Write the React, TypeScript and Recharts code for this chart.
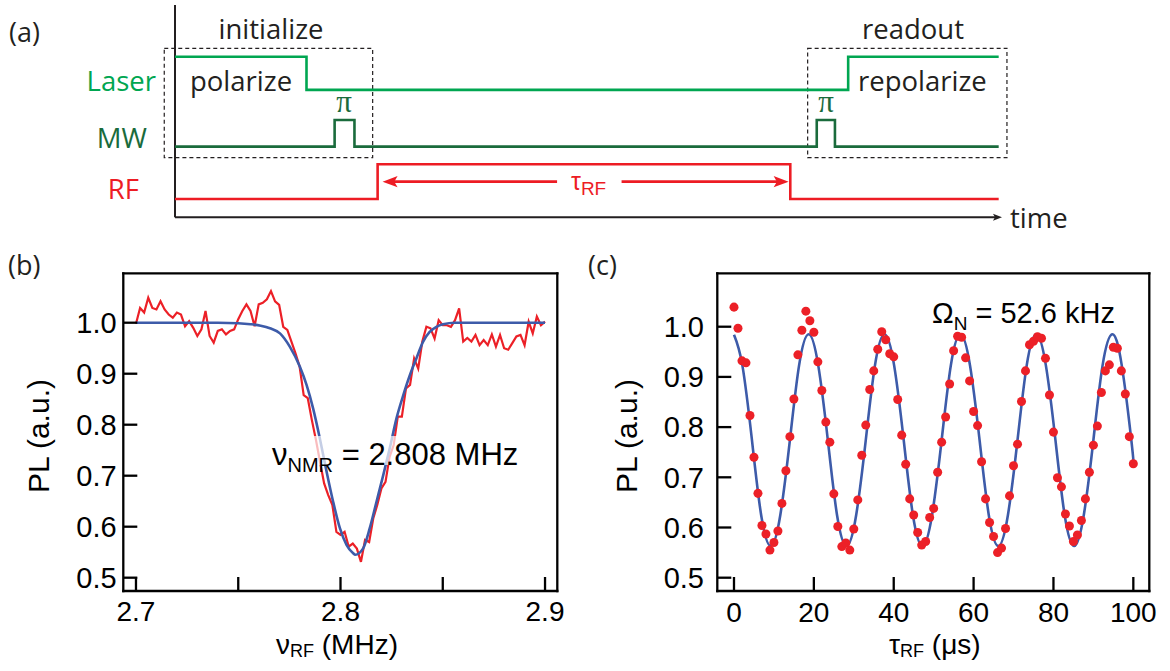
import React from "react";
import {
  LineChart, ComposedChart, Line, Scatter, XAxis, YAxis,
  ReferenceLine, ReferenceArea, ReferenceDot,
} from "recharts";

// ---- (a) pulse sequence: edge times (arb. units) and logic states ----
const LASER_T = [0, 15.9, 81.4, 99.6];
const LASER_S = [1, 0, 1, 1];
const MW_T = [0, 19.3, 21.7, 77.6, 79.8, 99.6];
const MW_S = [0, 1, 0, 1, 0, 0];
const RF_T = [0, 24.5, 74.4, 99.6];
const RF_S = [0, 1, 0, 0];
const TAU_ARROW = [25.1, 74.2];
const BOX_INIT = [-1.3, 23.9];
const BOX_READ = [76.5, 100.6];

// ---- (b) NMR spectrum ----
const NU_B = [
  2.700, 2.702, 2.704, 2.706, 2.708, 2.710, 2.712, 2.714, 2.716, 2.718,
  2.720, 2.722, 2.724, 2.726, 2.728, 2.730, 2.732, 2.734, 2.736, 2.738,
  2.740, 2.742, 2.744, 2.746, 2.748, 2.750, 2.752, 2.754, 2.756, 2.758,
  2.760, 2.762, 2.764, 2.766, 2.768, 2.770, 2.772, 2.774, 2.776, 2.778,
  2.780, 2.782, 2.784, 2.786, 2.788, 2.790, 2.792, 2.794, 2.796, 2.798,
  2.800, 2.802, 2.804, 2.806, 2.808, 2.810, 2.812, 2.814, 2.816, 2.818,
  2.820, 2.822, 2.824, 2.826, 2.828, 2.830, 2.832, 2.834, 2.836, 2.838,
  2.840, 2.842, 2.844, 2.846, 2.848, 2.850, 2.852, 2.854, 2.856, 2.858,
  2.860, 2.862, 2.864, 2.866, 2.868, 2.870, 2.872, 2.874, 2.876, 2.878,
  2.880, 2.882, 2.884, 2.886, 2.888, 2.890, 2.892, 2.894, 2.896, 2.898,
  2.900,
];
const PL_B = [
  0.998, 1.029, 1.020, 1.049, 1.029, 1.026, 1.042, 1.026, 1.016, 1.010,
  1.020, 1.016, 0.993, 1.003, 0.990, 0.974, 0.987, 1.023, 0.974, 0.961,
  0.984, 0.987, 0.977, 0.984, 0.987, 1.007, 1.023, 1.036, 1.023, 0.993,
  1.036, 1.039, 1.046, 1.062, 1.042, 1.035, 0.992, 0.986, 0.963, 0.940,
  0.914, 0.858, 0.852, 0.809, 0.770, 0.727, 0.685, 0.662, 0.643, 0.590,
  0.584, 0.590, 0.561, 0.567, 0.557, 0.531, 0.574, 0.570, 0.616, 0.643,
  0.675, 0.688, 0.737, 0.760, 0.816, 0.816, 0.871, 0.878, 0.930, 0.910,
  0.963, 0.992, 0.989, 0.969, 1.005, 0.995, 0.995, 0.992, 1.005, 1.028,
  0.963, 0.970, 0.963, 0.976, 0.956, 0.966, 0.956, 0.977, 0.953, 0.976,
  0.950, 0.947, 0.960, 0.973, 0.976, 0.956, 1.002, 0.979, 1.012, 0.995,
  1.002,
];
const FIT_NU_B = [
  2.700, 2.740, 2.750, 2.756, 2.761, 2.7655, 2.7704, 2.7752, 2.7801, 2.7834,
  2.7866, 2.7899, 2.7932, 2.7964, 2.7997, 2.8030, 2.8062, 2.8072, 2.8110, 2.8143,
  2.8176, 2.8209, 2.8241, 2.8274, 2.8307, 2.8339, 2.8371, 2.8404, 2.8436, 2.8469,
  2.8501, 2.856, 2.870, 2.900,
];
const FIT_PL_B = [
  1.000, 1.000, 0.999, 0.997, 0.994, 0.989, 0.979, 0.953, 0.914, 0.878,
  0.832, 0.773, 0.708, 0.649, 0.597, 0.564, 0.548, 0.545, 0.557, 0.597,
  0.649, 0.701, 0.754, 0.813, 0.858, 0.897, 0.930, 0.963, 0.982, 0.992,
  0.997, 1.000, 1.000, 1.000,
];
const TICKS_NU = [2.7, 2.75, 2.8, 2.85, 2.9];
const TICKS_PL = [0.5, 0.6, 0.7, 0.8, 0.9, 1.0];

// ---- (c) Rabi oscillation ----
const TAU_C = [
  0, 1, 2, 3, 4, 5, 6, 7, 8, 9, 10, 11, 12, 13, 14, 15, 16, 17, 18, 19,
  20, 21, 22, 23, 24, 25, 26, 27, 28, 29, 30, 31, 32, 33, 34, 35, 36, 37, 38, 39,
  40, 41, 42, 43, 44, 45, 46, 47, 48, 49, 50, 51, 52, 53, 54, 55, 56, 57, 58, 59,
  60, 61, 62, 63, 64, 65, 66, 67, 68, 69, 70, 71, 72, 73, 74, 75, 76, 77, 78, 79,
  80, 81, 82, 83, 84, 85, 86, 87, 88, 89, 90, 91, 92, 93, 94, 95, 96, 97, 98, 99,
  100,
];
const PL_C = [
  1.039, 0.997, 0.932, 0.928, 0.823, 0.740, 0.668, 0.604, 0.587, 0.555,
  0.570, 0.593, 0.648, 0.713, 0.781, 0.856, 0.944, 0.993, 1.031, 1.012,
  0.989, 0.930, 0.873, 0.810, 0.770, 0.667, 0.602, 0.562, 0.569, 0.555,
  0.597, 0.655, 0.744, 0.804, 0.875, 0.912, 0.955, 0.990, 0.974, 0.946,
  0.940, 0.855, 0.784, 0.726, 0.657, 0.625, 0.590, 0.565, 0.572, 0.620,
  0.638, 0.710, 0.770, 0.820, 0.886, 0.952, 0.981, 0.979, 0.938, 0.892,
  0.831, 0.803, 0.731, 0.657, 0.610, 0.582, 0.550, 0.559, 0.598, 0.663,
  0.723, 0.766, 0.851, 0.912, 0.964, 0.971, 0.980, 0.977, 0.937, 0.864,
  0.790, 0.699, 0.681, 0.627, 0.603, 0.572, 0.585, 0.614, 0.657, 0.710,
  0.764, 0.802, 0.869, 0.912, 0.924, 0.959, 0.957, 0.912, 0.866, 0.781,
  0.727,
];
const FIT_TAU_C = [
  0, 2.1, 4.5, 6.8, 9.2, 11.6, 14.0, 16.3, 18.7, 21.1, 23.5, 25.8, 28.2,
  30.6, 33.0, 35.3, 37.7, 40.1, 42.5, 44.8, 47.2, 49.6, 52.0, 54.3, 56.7,
  59.1, 61.5, 63.8, 66.2, 68.6, 71.0, 73.3, 75.7, 78.1, 80.5, 82.8, 85.2,
  87.6, 90.0, 92.3, 94.7, 97.1, 99.5, 100,
];
const FIT_PL_C = [
  0.984, 0.923, 0.774, 0.625, 0.563, 0.625, 0.774, 0.923, 0.985, 0.923, 0.774, 0.625, 0.563,
  0.625, 0.774, 0.923, 0.985, 0.923, 0.774, 0.625, 0.563, 0.625, 0.774, 0.923, 0.985,
  0.923, 0.774, 0.625, 0.563, 0.625, 0.774, 0.923, 0.985, 0.923, 0.774, 0.625, 0.563,
  0.625, 0.774, 0.923, 0.985, 0.923, 0.774, 0.733,
];
const TICKS_TAU = [0, 20, 40, 60, 80, 100];

// colours / fonts
const LASER = "#00a651";
const MW = "#1a6b3c";
const RF = "#ed1c24";
const INK = "#231f20";
const BLUE = "#3d5ba9";
const RED = "#ec2027";
const FONT_A = "'Open Sans', 'DejaVu Sans', sans-serif";
const FONT_P = "'Liberation Sans', Arial, sans-serif";

// channel baselines / heights in the (a) frame
const CH = {
  laser: { base: 6.0, amp: 1.56 },
  mw: { base: 3.33, amp: 1.25 },
  rf: { base: 0.86, amp: 1.64 },
};
const ARROW_Y = 1.68;

const wave = (ts: number[], ss: number[], c: { base: number; amp: number }) =>
  ts.map((t, i) => ({ t, v: c.base + c.amp * ss[i] }));

const arrowHead = (dir: 1 | -1, len: number, half: number, color: string) =>
  (p: any) => {
    const { cx, cy } = p;
    const b = cx - dir * len;
    const n = cx - dir * len * 0.78;
    return (
      <polygon
        points={`${cx},${cy} ${b},${cy - half} ${n},${cy} ${b},${cy + half}`}
        fill={color}
      />
    );
  };

const frameLine = { stroke: "#000", strokeWidth: 2.3, strokeLinecap: "square" as const };
const tickLine = { stroke: "#000", strokeWidth: 2.3 };
const yTickText = { fill: "#000", fontSize: 29, fontFamily: FONT_P };
const xTickText = { fill: "#000", fontSize: 28, fontFamily: FONT_P };

function PanelA() {
  return (
    <LineChart width={1170} height={230} margin={{ top: 5, right: 143.2, bottom: 12.7, left: 150.2 }}>
      <XAxis dataKey="t" type="number" domain={[-3, 103]} hide allowDataOverflow />
      <YAxis type="number" domain={[0, 10]} hide allowDataOverflow />
      <ReferenceArea x1={BOX_INIT[0]} x2={BOX_INIT[1]} y1={2.81} y2={7.96}
        fill="none" fillOpacity={0} stroke={INK} strokeWidth={1.2} strokeDasharray="4 3" />
      <ReferenceArea x1={BOX_READ[0]} x2={BOX_READ[1]} y1={2.81} y2={7.96}
        fill="none" fillOpacity={0} stroke={INK} strokeWidth={1.2} strokeDasharray="4 3" />
      <ReferenceLine x={0} stroke={INK} strokeWidth={2} />
      <ReferenceLine segment={[{ x: 0, y: 0 }, { x: 99.2, y: 0 }]} stroke={INK} strokeWidth={2} />
      <ReferenceDot x={100} y={0} shape={arrowHead(1, 9, 3.5, INK)} />
      <Line data={wave(LASER_T, LASER_S, CH.laser)} dataKey="v" type="stepAfter" stroke={LASER}
        strokeWidth={2.6} dot={false} activeDot={false} isAnimationActive={false} />
      <Line data={wave(MW_T, MW_S, CH.mw)} dataKey="v" type="stepAfter" stroke={MW}
        strokeWidth={2.6} dot={false} activeDot={false} isAnimationActive={false} />
      <Line data={wave(RF_T, RF_S, CH.rf)} dataKey="v" type="stepAfter" stroke={RF}
        strokeWidth={2.6} dot={false} activeDot={false} isAnimationActive={false} />
      <ReferenceLine segment={[{ x: TAU_ARROW[0] + 1, y: ARROW_Y }, { x: 46.2, y: ARROW_Y }]} stroke={RF} strokeWidth={2.6} />
      <ReferenceLine segment={[{ x: 54.0, y: ARROW_Y }, { x: TAU_ARROW[1] - 1, y: ARROW_Y }]} stroke={RF} strokeWidth={2.6} />
      <ReferenceDot x={TAU_ARROW[0]} y={ARROW_Y} shape={arrowHead(-1, 15, 5.7, RF)} />
      <ReferenceDot x={TAU_ARROW[1]} y={ARROW_Y} shape={arrowHead(1, 15, 5.7, RF)} />
    </LineChart>
  );
}

// axis sizes: the labelled left/bottom axes take 60/30 px, the bare right/top ones 1 px
function PanelB() {
  const raw = NU_B.map((x, i) => ({ x, y: PL_B[i] }));
  const fit = FIT_NU_B.map((x, i) => ({ x, y: FIT_PL_B[i] }));
  const dom: [number, number] = [2.6938, 2.906];
  const ydom: [number, number] = [0.4739, 1.0969];
  return (
    <LineChart width={580} height={441} margin={{ top: 42.3, right: 21.7, bottom: 50, left: 63.3 }}>
      <XAxis xAxisId="b" dataKey="x" type="number" domain={dom} ticks={TICKS_NU} height={30}
        allowDataOverflow axisLine={frameLine} tickLine={tickLine} tickSize={-14} tickMargin={24}
        tick={xTickText} tickFormatter={(v: number) => (Math.abs(v * 10 - Math.round(v * 10)) < 1e-6 ? v.toFixed(1) : "")} />
      <XAxis xAxisId="t" orientation="top" dataKey="x" type="number" domain={dom} ticks={TICKS_NU} height={1}
        allowDataOverflow axisLine={frameLine} tickLine={tickLine} tickSize={-14} tick={false} />
      <YAxis yAxisId="l" dataKey="y" type="number" domain={ydom} ticks={TICKS_PL} width={60}
        allowDataOverflow axisLine={frameLine} tickLine={tickLine} tickSize={-14} tickMargin={20.6}
        tick={yTickText} tickFormatter={(v: number) => v.toFixed(1)} />
      <YAxis yAxisId="r" orientation="right" type="number" domain={ydom} ticks={TICKS_PL} width={1}
        allowDataOverflow axisLine={frameLine} tickLine={tickLine} tickSize={-14} tick={false} />
      <Line xAxisId="b" yAxisId="l" data={raw} dataKey="y" type="linear" stroke={RED} strokeWidth={2.2}
        dot={false} activeDot={false} isAnimationActive={false} />
      <Line xAxisId="b" yAxisId="l" data={fit} dataKey="y" type="monotone" stroke={BLUE} strokeWidth={2.6}
        dot={false} activeDot={false} isAnimationActive={false} />
    </LineChart>
  );
}

function PanelC() {
  const pts = TAU_C.map((x, i) => ({ x, y: PL_C[i] }));
  const fit = FIT_TAU_C.map((x, i) => ({ x, y: FIT_PL_C[i] }));
  const dom: [number, number] = [-4.18, 104.0];
  const ydom: [number, number] = [0.4735, 1.1064];
  return (
    <ComposedChart width={590} height={441} margin={{ top: 42.3, right: 19.7, bottom: 50, left: 77.3 }}>
      <XAxis xAxisId="b" dataKey="x" type="number" domain={dom} ticks={TICKS_TAU} height={30}
        allowDataOverflow axisLine={frameLine} tickLine={tickLine} tickSize={-14} tickMargin={25}
        tick={xTickText} />
      <XAxis xAxisId="t" orientation="top" dataKey="x" type="number" domain={dom} ticks={TICKS_TAU} height={1}
        allowDataOverflow axisLine={frameLine} tickLine={tickLine} tickSize={-14} tick={false} />
      <YAxis yAxisId="l" dataKey="y" type="number" domain={ydom} ticks={TICKS_PL} width={60}
        allowDataOverflow axisLine={frameLine} tickLine={tickLine} tickSize={-14} tickMargin={27.3}
        tick={yTickText} tickFormatter={(v: number) => v.toFixed(1)} />
      <YAxis yAxisId="r" orientation="right" type="number" domain={ydom} ticks={TICKS_PL} width={1}
        allowDataOverflow axisLine={frameLine} tickLine={tickLine} tickSize={-14} tick={false} />
      <Scatter xAxisId="b" yAxisId="l" data={pts} dataKey="y" fill={RED} shape="circle" isAnimationActive={false} />
      <Line xAxisId="b" yAxisId="l" data={fit} dataKey="y" type="natural" stroke={BLUE} strokeWidth={2.6}
        dot={false} activeDot={false} isAnimationActive={false} />
    </ComposedChart>
  );
}

function Labels() {
  return (
    <svg width={1170} height={671} style={{ position: "absolute", left: 0, top: 0, pointerEvents: "none" }}>
      <g fontFamily={FONT_A} fill={INK} fontSize={27}>
        <text x={9} y={42}>(a)</text>
        <text x={8} y={275}>(b)</text>
        <text x={588} y={275}>(c)</text>
      </g>
      <g fontFamily={FONT_A} fontSize={27.5} fill={INK}>
        <text x={271} y={39} textAnchor="middle">initialize</text>
        <text x={913} y={39} textAnchor="middle">readout</text>
        <text x={190} y={91}>polarize</text>
        <text x={858} y={91}>repolarize</text>
        <text x={1010} y={228}>time</text>
        <text x={156} y={91} textAnchor="end" fill={LASER}>Laser</text>
        <text x={147} y={148} textAnchor="end" fill={MW}>MW</text>
        <text x={139} y={199} textAnchor="end" fill={RF}>RF</text>
      </g>
      <g fontFamily="'Liberation Serif', serif" fontSize={31} fill={MW} textAnchor="middle">
        <text x={344} y={112}>π</text>
        <text x={826} y={112}>π</text>
      </g>
      <text x={571} y={190} fill={RF} fontFamily={FONT_P} fontSize={25}>
        τ<tspan dy={5} fontSize={19}>RF</tspan>
      </text>

      <g fontFamily={FONT_P} fill="#000">
        <rect x={270} y={436} width={250} height={29} fill="#fff" fillOpacity={0.7} />
        <text x={272} y={465} fontSize={31}>
          ν<tspan dy={7} fontSize={20}>NMR</tspan><tspan dy={-7}> = 2.808 MHz</tspan>
        </text>
        <text x={932} y={323} fontSize={29}>
          Ω<tspan dy={7} fontSize={19}>N</tspan><tspan dy={-7}> = 52.6 kHz</tspan>
        </text>
        <text x={276} y={654} fontSize={28}>
          ν<tspan dy={3} fontSize={18}>RF</tspan><tspan dy={-3}> (MHz)</tspan>
        </text>
        <text x={889} y={654} fontSize={28}>
          τ<tspan dy={3} fontSize={18}>RF</tspan><tspan dy={-3}> (μs)</tspan>
        </text>
        <text transform="translate(48.5 436) rotate(-90)" textAnchor="middle" fontSize={30}>PL (a.u.)</text>
        <text transform="translate(636.5 436) rotate(-90)" textAnchor="middle" fontSize={30}>PL (a.u.)</text>
      </g>
    </svg>
  );
}

export default function App() {
  return (
    <div style={{ position: "absolute", left: 0, top: 0, width: 1170, height: 671, background: "#fff", fontFamily: FONT_P }}>
      <div style={{ position: "absolute", left: 0, top: 0 }}><PanelA /></div>
      <div style={{ position: "absolute", left: 0, top: 230 }}><PanelB /></div>
      <div style={{ position: "absolute", left: 580, top: 230 }}><PanelC /></div>
      <Labels />
    </div>
  );
}
